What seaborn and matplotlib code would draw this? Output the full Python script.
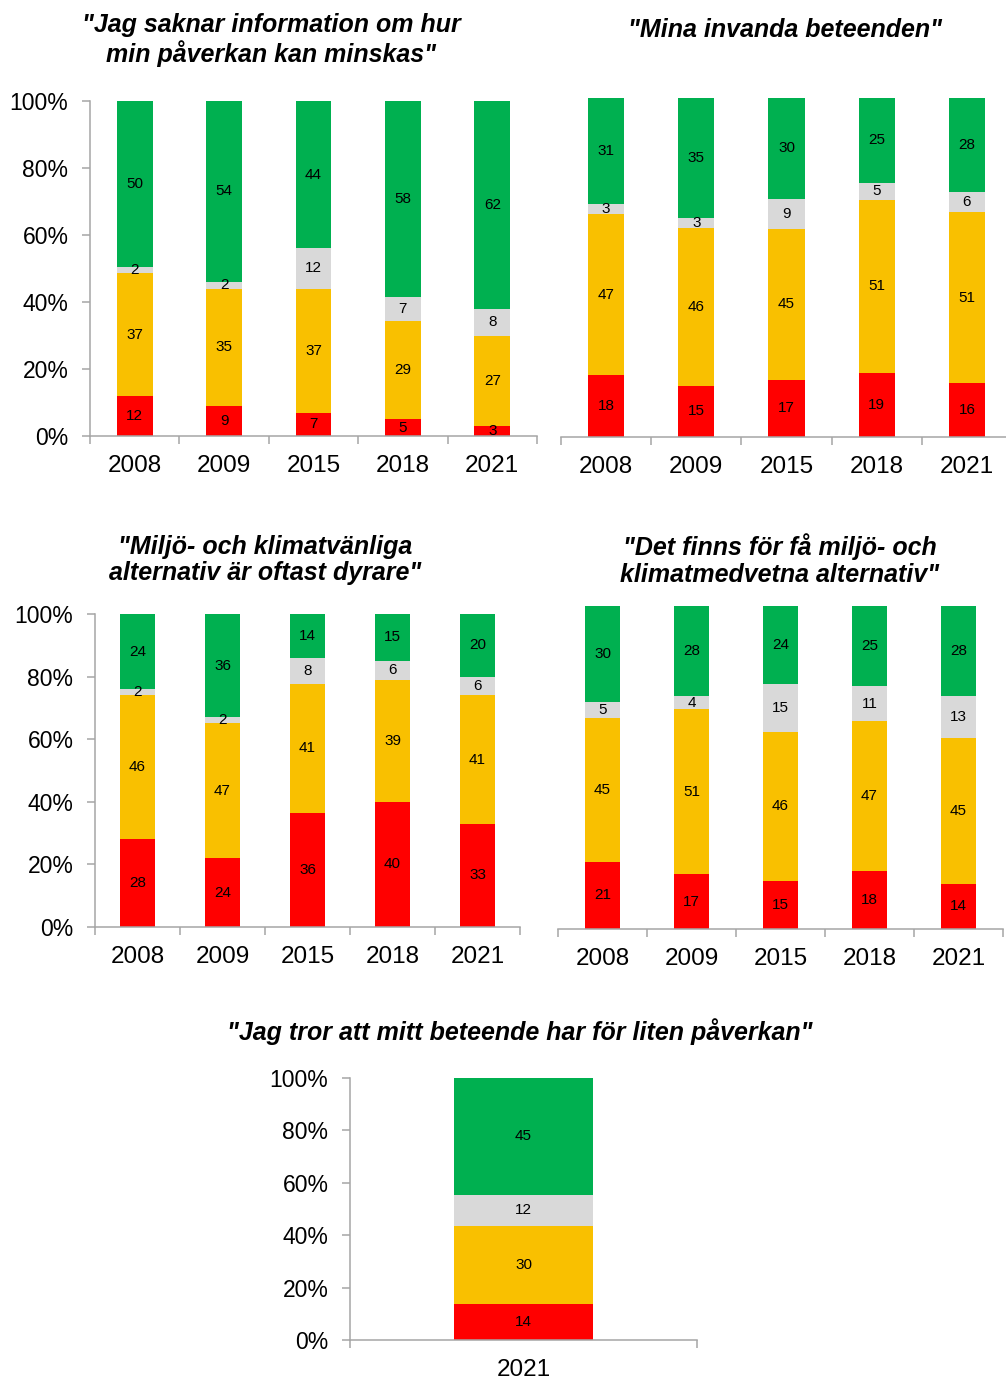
import matplotlib
matplotlib.use("Agg")
import matplotlib.pyplot as plt
import seaborn as sns
import numpy as np

# ---------------- data ----------------
years = ["2008", "2009", "2015", "2018", "2021"]
years_single = ["2021"]

p1_red = [12, 9, 7, 5, 3]
p1_yellow = [37, 35, 37, 29, 27]
p1_gray = [2, 2, 12, 7, 8]
p1_green = [50, 54, 44, 58, 62]

p2_red = [18, 15, 17, 19, 16]
p2_yellow = [47, 46, 45, 51, 51]
p2_gray = [3, 3, 9, 5, 6]
p2_green = [31, 35, 30, 25, 28]

p3_red = [28, 24, 36, 40, 33]
p3_yellow = [46, 47, 41, 39, 41]
p3_gray = [2, 2, 8, 6, 6]
p3_green = [24, 36, 14, 15, 20]

p4_red = [21, 17, 15, 18, 14]
p4_yellow = [45, 51, 46, 47, 45]
p4_gray = [5, 4, 15, 11, 13]
p4_green = [30, 28, 24, 25, 28]

p5_red = [14]
p5_yellow = [30]
p5_gray = [12]
p5_green = [45]

title1 = '"Jag saknar information om hur\nmin påverkan kan minskas"'
title2 = '"Mina invanda beteenden"'
title3 = '"Miljö- och klimatvänliga\nalternativ är oftast dyrare"'
title4 = '"Det finns för få miljö- och\nklimatmedvetna alternativ"'
title5 = '"Jag tror att mitt beteende har för liten påverkan"'

y_ticks = [0, 20, 40, 60, 80, 100]

# ---------------- style ----------------
sns.set_style("white")
plt.rcParams["font.family"] = ["Liberation Sans", "DejaVu Sans"]

C_RED = "#FF0000"
C_YELLOW = "#F9C000"
C_GRAY = "#D9D9D9"
C_GREEN = "#00B050"
AXIS_C = "#A6A6A6"

W, H = 1006, 1380
fig = plt.figure(figsize=(W / 100, H / 100), dpi=100)


def px_axes(x0, x1, ytop, ybot):
    return fig.add_axes([x0 / W, 1 - ybot / H, (x1 - x0) / W, (ybot - ytop) / H])


def draw_panel(ax, cats, red, yellow, gray, green, bar_w, show_y, lab_size=11):
    segs = np.array([red, yellow, gray, green], dtype=float)
    shares = segs / segs.sum(axis=0) * 100
    cum = np.cumsum(shares, axis=0)
    colors = [C_RED, C_YELLOW, C_GRAY, C_GREEN]
    # draw from top-most cumulative layer down so lower segments overlay
    for i in range(3, -1, -1):
        sns.barplot(x=cats, y=cum[i], color=colors[i], width=bar_w,
                    saturation=1, linewidth=0, errorbar=None, ax=ax,
                    order=cats)
    bottoms = cum - shares
    for i in range(4):
        for j in range(len(cats)):
            ax.text(j, bottoms[i, j] + shares[i, j] / 2, f"{segs[i, j]:g}",
                    ha="center", va="center", fontsize=lab_size, color="black")
    n = len(cats)
    ax.set_xlim(-0.5, n - 0.5)
    ax.set_ylim(0, 100)
    ax.set_xlabel("")
    ax.set_ylabel("")
    for s in ["top", "right"]:
        ax.spines[s].set_visible(False)
    ax.spines["bottom"].set_color(AXIS_C)
    ax.spines["bottom"].set_linewidth(1.1)
    ax.set_xticks(range(n))
    ax.set_xticklabels(cats)
    ax.set_xticks(np.arange(-0.5, n, 1.0), minor=True)
    ax.tick_params(axis="x", which="major", length=0, pad=14, labelsize=17.5,
                   colors="black")
    ax.tick_params(axis="x", which="minor", length=5.5, width=1.1,
                   color=AXIS_C, direction="out", bottom=True)
    if show_y:
        ax.spines["left"].set_color(AXIS_C)
        ax.spines["left"].set_linewidth(1.1)
        ax.set_yticks(y_ticks)
        ax.set_yticklabels([f"{v}%" for v in y_ticks])
        ax.tick_params(axis="y", length=5.5, width=1.1, color=AXIS_C,
                       direction="out", left=True, pad=10, labelsize=16.5,
                       labelcolor="black")
    else:
        ax.spines["left"].set_visible(False)
        ax.set_yticks([])
    ax.grid(False)


ax1 = px_axes(90, 537, 101, 436)
draw_panel(ax1, years, p1_red, p1_yellow, p1_gray, p1_green, 0.4, True)

ax2 = px_axes(561, 1012, 98, 437)
draw_panel(ax2, years, p2_red, p2_yellow, p2_gray, p2_green, 0.4, False)

ax3 = px_axes(95, 520, 614, 927)
draw_panel(ax3, years, p3_red, p3_yellow, p3_gray, p3_green, 0.41, True)

ax4 = px_axes(558, 1003, 606, 929)
draw_panel(ax4, years, p4_red, p4_yellow, p4_gray, p4_green, 0.4, False)

ax5 = px_axes(350, 697, 1078, 1340)
draw_panel(ax5, years_single, p5_red, p5_yellow, p5_gray, p5_green, 0.4, True)

tkw = dict(ha="center", va="center", fontsize=18, fontweight="bold",
           fontstyle="italic", linespacing=1.15, color="black")
fig.text(271 / W, 1 - 40 / H, title1, **tkw)
fig.text(785 / W, 1 - 30 / H, title2, **tkw)
fig.text(265 / W, 1 - 560 / H, title3, **tkw)
fig.text(780 / W, 1 - 560 / H, title4, **tkw)
fig.text(520 / W, 1 - 1032 / H, title5, **tkw)

fig.savefig("out.png", dpi=100)
